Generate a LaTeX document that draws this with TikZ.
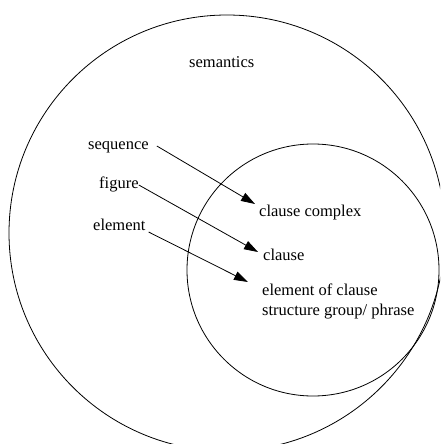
\documentclass[tikz,border=0pt]{standalone}
\usepackage{fontspec}
\setmainfont{Liberation Serif}
\usetikzlibrary{arrows.meta,calc}
\begin{document}
\begin{tikzpicture}[x=1pt,y=-1pt,
  lbl/.style={anchor=base west, inner sep=0pt, font=\fontsize{16.5}{20}\selectfont},
  arr/.style={-{Triangle[length=14pt,width=9pt]}, line width=0.8pt},
  ring/.style={line width=0.8pt}]
\useasboundingbox (0,0) rectangle (440,444);
\begin{scope}
  \clip (0,0) rectangle (440,444);
  \draw[ring] (227,233) circle[radius=218];
  \draw[ring] (313,270) circle[radius=126];
\end{scope}
\node[lbl] (sem) at (189,67) {semantics};
\node[lbl] (seq) at (88,149) {sequence};
\node[lbl] (fig) at (99,188) {figure};
\node[lbl] (ele) at (93,230) {element};
\node[lbl] (cc) at (259,216) {clause complex};
\node[lbl] (cl) at (263,260) {clause};
\node[lbl] (eoc) at (262,295) {element of clause};
\node[lbl] (sgp) at (262,315) {structure group/ phrase};
\draw[arr] ($(seq.base east)+(8,-3)$) -- ($(cc.base west)+(-4,-12)$);
\draw[arr] ($(fig.base east)+(0,-3)$) -- ($(cl.base west)+(-5,-8)$);
\draw[arr] ($(ele.base east)+(3,2)$) -- ($(eoc.base west)+(-14,-13)$);
\end{tikzpicture}
\end{document}
